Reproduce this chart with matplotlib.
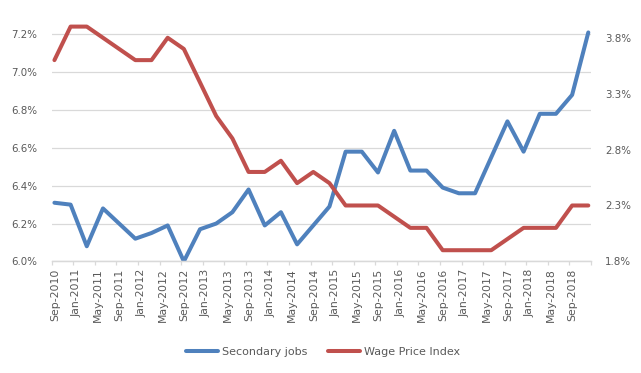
import matplotlib
matplotlib.use("Agg")
import matplotlib.pyplot as plt
import pandas as pd

# quarterly observations, Sep-2010 .. Dec-2018
dates = pd.date_range("2010-09-01", "2018-12-01", freq="3MS")

secondary_jobs = [
    6.31, 6.30, 6.08, 6.28, 6.20, 6.12, 6.15, 6.19, 6.00, 6.17,
    6.20, 6.26, 6.38, 6.19, 6.26, 6.09, 6.19, 6.29, 6.58, 6.58,
    6.47, 6.69, 6.48, 6.48, 6.39, 6.36, 6.36, 6.55, 6.74, 6.58,
    6.78, 6.78, 6.88, 7.21,
]
wage_price_index = [
    3.6, 3.9, 3.9, 3.8, 3.7, 3.6, 3.6, 3.8, 3.7, 3.4,
    3.1, 2.9, 2.6, 2.6, 2.7, 2.5, 2.6, 2.5, 2.3, 2.3,
    2.3, 2.2, 2.1, 2.1, 1.9, 1.9, 1.9, 1.9, 2.0, 2.1,
    2.1, 2.1, 2.3, 2.3,
]

tick_labels = [
    "Sep-2010", "Jan-2011", "May-2011", "Sep-2011", "Jan-2012", "May-2012",
    "Sep-2012", "Jan-2013", "May-2013", "Sep-2013", "Jan-2014", "May-2014",
    "Sep-2014", "Jan-2015", "May-2015", "Sep-2015", "Jan-2016", "May-2016",
    "Sep-2016", "Jan-2017", "May-2017", "Sep-2017", "Jan-2018", "May-2018",
    "Sep-2018",
]
left_ticks = [6.0, 6.2, 6.4, 6.6, 6.8, 7.0, 7.2]
right_ticks = [1.8, 2.3, 2.8, 3.3, 3.8]

blue = "#4F81BD"
red = "#C0504D"
grey_text = "#595959"
grid_col = "#D9D9D9"

# month slots from Sep-2010, points sit in the middle of their slot
x = [(d.year - 2010) * 12 + d.month - 9 + 0.5 for d in dates]
n_slots = 100
major = list(range(0, n_slots + 1, 4))
label_pos = [m + 0.6 for m in major[: len(tick_labels)]]

fig = plt.figure(figsize=(6.41, 3.73), dpi=100)
ax = fig.add_axes([0.0807, 0.2992, 0.9220 - 0.0807, 0.9587 - 0.2992])
ax2 = ax.twinx()

ax.plot(x, secondary_jobs, color=blue, linewidth=2.9, solid_capstyle="round",
        solid_joinstyle="round", label="Secondary jobs")
ax2.plot(x, wage_price_index, color=red, linewidth=2.9, solid_capstyle="round",
         solid_joinstyle="round", label="Wage Price Index")

ax.set_xlim(0, n_slots)
ax.set_ylim(6.0, 7.3)
ax2.set_ylim(1.8, 4.0)

ax.set_yticks(left_ticks)
ax.set_yticklabels([f"{v:.1f}%" for v in left_ticks])
ax2.set_yticks(right_ticks)
ax2.set_yticklabels([f"{v:.1f}%" for v in right_ticks])

ax.set_xticks(major)
ax.set_xticklabels([])
ax.set_xticks(label_pos, minor=True)
ax.set_xticklabels(tick_labels, minor=True, rotation=90)

ax.yaxis.grid(True, color=grid_col, linewidth=0.9)
ax.set_axisbelow(True)

for a in (ax, ax2):
    for side in ("top", "left", "right"):
        a.spines[side].set_visible(False)
    a.spines["bottom"].set_color(grid_col)
    a.spines["bottom"].set_linewidth(0.9)

ax.tick_params(axis="y", length=0, pad=10.5, labelsize=7.4, labelcolor=grey_text)
ax2.tick_params(axis="y", length=0, pad=10, labelsize=7.4, labelcolor=grey_text)
ax.tick_params(axis="x", which="major", length=3, color=grid_col, width=0.9)
ax.tick_params(axis="x", which="minor", length=0, pad=5, labelsize=7.8,
               labelcolor=grey_text)

h1, l1 = ax.get_legend_handles_labels()
h2, l2 = ax2.get_legend_handles_labels()
fig.legend(h1 + h2, l1 + l2, loc="center", bbox_to_anchor=(0.504, 0.057),
           ncol=2, frameon=False, fontsize=8, handlelength=2.9,
           handletextpad=0.3, columnspacing=1.9, labelcolor=grey_text)

fig.savefig("out.png", dpi=100)
